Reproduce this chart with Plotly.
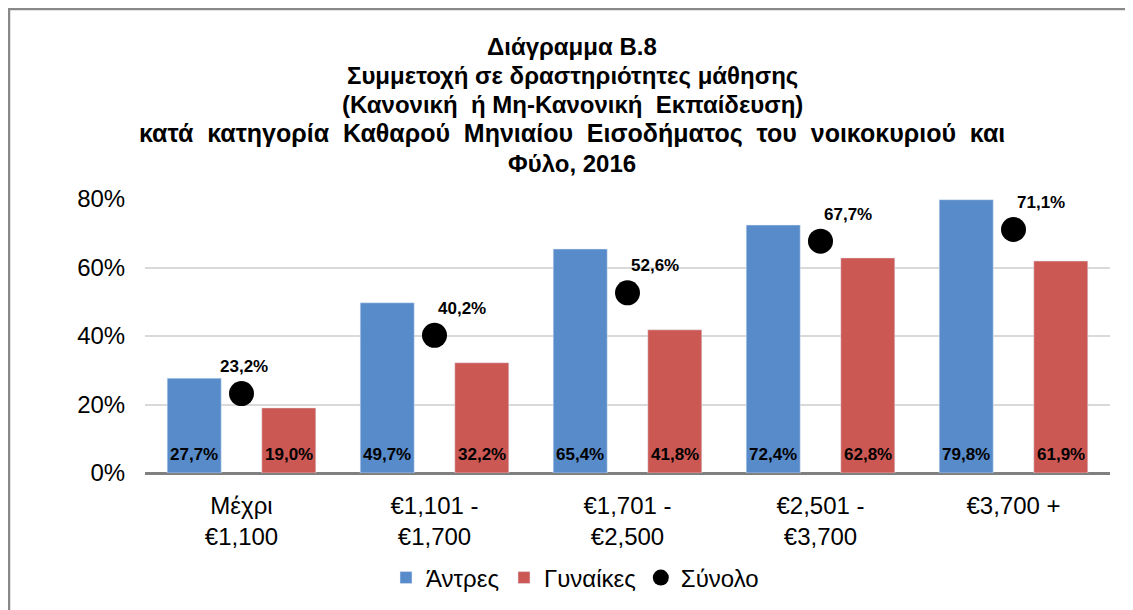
import plotly.graph_objects as go

categories = ["Μέχρι<br>€1,100", "€1,101 -<br>€1,700", "€1,701 -<br>€2,500", "€2,501 -<br>€3,700", "€3,700 +"]
men = [27.7, 49.7, 65.4, 72.4, 79.8]
women = [19.0, 32.2, 41.8, 62.8, 61.9]
total = [23.2, 40.2, 52.6, 67.7, 71.1]
y_ticks = [0, 20, 40, 60, 80]
y_tick_labels = ["0%", "20%", "40%", "60%", "80%"]

title_lines = ["Διάγραμμα Β.8",
               "Συμμετοχή σε δραστηριότητες μάθησης",
               "(Κανονική \u00a0ή Μη-Κανονική \u00a0Εκπαίδευση)",
               "κατά \u00a0κατηγορία \u00a0Καθαρού \u00a0Μηνιαίου \u00a0Εισοδήματος \u00a0του \u00a0νοικοκυριού \u00a0και",
               "Φύλο, 2016"]

FONT = "Liberation Sans, Arial, sans-serif"
BLUE = "#588BCA"
RED = "#CC5854"

# page body has an 8px margin: positions below are figure pixels
OFF = 8
W, H = 1133, 610
PL, PR, PT, PB = 145 - OFF, 1110 - OFF, 199 - OFF, 473 - OFF
BAR_W = 0.28
OFFSETS = [-0.385, 0.105]

def fmt(v):
    return f"{v:.1f}".replace(".", ",") + "%"

fig = go.Figure()
for name, vals, color, off in [("Άντρες", men, BLUE, OFFSETS[0]),
                               ("Γυναίκες", women, RED, OFFSETS[1])]:
    fig.add_trace(go.Bar(
        name=name, x=list(range(len(categories))), y=vals, marker_color=color,
        offset=off, width=BAR_W,
    ))
    for i, v in enumerate(vals):
        fig.add_annotation(
            x=i + off + BAR_W / 2, y=0, text=fmt(v), showarrow=False,
            yanchor="middle", yshift=19,
            font=dict(family=FONT, size=17, color="black", weight="bold"),
        )

fig.add_trace(go.Scatter(
    name="Σύνολο", x=list(range(len(categories))), y=total, mode="markers",
    marker=dict(color="black", size=25),
))

for i, v in enumerate(total):
    fig.add_annotation(
        x=i, y=v, text=fmt(v), showarrow=False,
        xshift=2 if i == 0 else 27, yshift=27,
        font=dict(family=FONT, size=17, color="black", weight="bold"),
    )

# title lines
for i, line in enumerate(title_lines):
    yc = 46 + 29.3 * i - OFF
    fig.add_annotation(
        xref="paper", yref="paper",
        x=(572 - OFF - PL) / (PR - PL), y=(PB - yc) / (PB - PT),
        xanchor="center", yanchor="middle", showarrow=False,
        text=f"<b>{line}</b>",
        font=dict(family=FONT, size=25 if i == 3 else 24, color="black"),
    )

# outer chart border
fig.add_shape(type="rect", xref="paper", yref="paper",
              x0=(9 - OFF - PL) / (PR - PL), x1=(1160 - PL) / (PR - PL),
              y0=(PB - 640) / (PB - PT), y1=(PB - (9 - OFF)) / (PB - PT),
              line=dict(color="#898989", width=2.5), fillcolor="rgba(0,0,0,0)",
              layer="below")

fig.update_layout(
    width=W, height=H,
    margin=dict(l=PL, r=W - PR, t=PT, b=H - PB, autoexpand=False),
    paper_bgcolor="white", plot_bgcolor="white",
    font=dict(family=FONT, color="black"),
    barmode="overlay",
    showlegend=True,
    legend=dict(orientation="h", xref="container", yref="container",
                x=(575 - OFF) / W, xanchor="center", y=1 - (578 - OFF) / H, yanchor="middle",
                font=dict(family=FONT, size=24, color="black"),
                itemwidth=30, tracegroupgap=0),
    xaxis=dict(range=[-0.5, 4.5], tickvals=list(range(len(categories))),
               ticktext=categories, showgrid=False,
               showline=False, zeroline=False, automargin=False,
               ticks="outside", ticklen=11, tickcolor="rgba(0,0,0,0)",
               tickfont=dict(family=FONT, size=24, color="black")),
    yaxis=dict(range=[0, 80], tickvals=y_ticks, ticktext=y_tick_labels,
               showgrid=True, gridcolor="#D9D9D9", gridwidth=1.5,
               zeroline=True, zerolinecolor="#808080", zerolinewidth=2.5,
               showline=False, automargin=False,
               ticks="outside", ticklen=14, tickcolor="rgba(0,0,0,0)",
               tickfont=dict(family=FONT, size=24, color="black")),
)

fig.write_html("out.html")
